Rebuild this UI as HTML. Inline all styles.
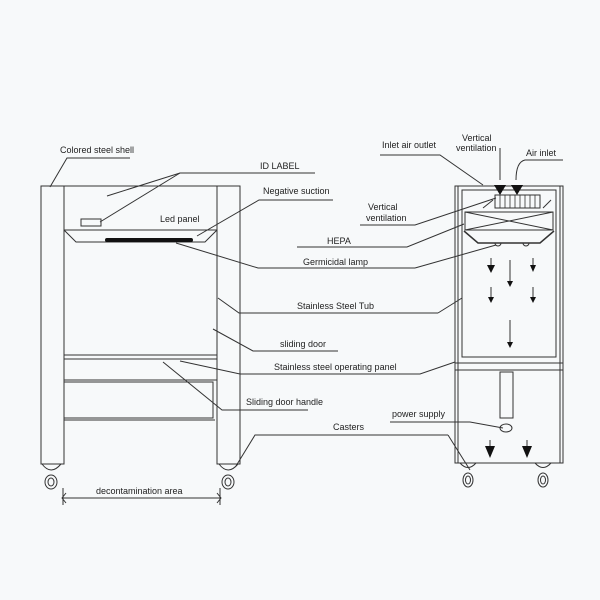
<!DOCTYPE html>
<html><head><meta charset="utf-8"><style>
html,body{margin:0;padding:0;background:#f7f9fa}
svg{display:block}
text{font-family:"Liberation Sans",sans-serif;font-size:9px;fill:#222}
</style></head><body>
<svg width="600" height="600" viewBox="0 0 600 600" xmlns="http://www.w3.org/2000/svg">
<rect width="600" height="600" fill="#f7f9fa"/>
<g fill="none" stroke="#333" stroke-width="1">
<!-- Left cabinet -->
<rect x="41" y="186" width="23" height="278"/>
<rect x="217" y="186" width="23" height="278"/>
<line x1="64" y1="186" x2="217" y2="186"/>
<line x1="64" y1="230" x2="217" y2="230"/>
<polyline points="64,230 76,242 205,242 217,230"/>
<rect x="81" y="219" width="20" height="7"/>
<line x1="64" y1="355" x2="217" y2="355"/>
<line x1="64" y1="359" x2="217" y2="359"/>
<line x1="64" y1="380" x2="217" y2="380"/>
<polyline points="64,382 213,382 213,418 64,418"/>
<line x1="64" y1="420" x2="215" y2="420"/>
<!-- casters left -->
<path d="M42,464 Q51,476 61,464"/><ellipse cx="51" cy="482" rx="6" ry="7"/><ellipse cx="51" cy="482" rx="3" ry="4"/>
<path d="M219,464 Q228,476 238,464"/><ellipse cx="228" cy="482" rx="6" ry="7"/><ellipse cx="228" cy="482" rx="3" ry="4"/>
<!-- dimension -->
<line x1="63" y1="498" x2="220" y2="498"/>
<path d="M66,493 L62,498 L66,503"/><path d="M217,493 L221,498 L217,503"/>
<line x1="63" y1="488" x2="63" y2="505"/><line x1="220" y1="488" x2="220" y2="505"/>
<!-- leaders left -->
<polyline points="130,158 67,158 50,187"/>
<polyline points="315,173 180,173 107,196"/>
<line x1="180" y1="173" x2="100" y2="222"/>
<polyline points="333,200 259,200 197,236"/>
<polyline points="415,268 258,268 176,243"/>
<polyline points="438,313 239,313 218,298"/>
<polyline points="462,298 438,313"/>
<polyline points="338,351 253,351 213,329"/>
<polyline points="455,362 420,374 240,374 180,361"/>
<polyline points="308,410 222,410 163,362"/>
<polyline points="448,435 255,435 236,466"/>
<polyline points="360,225 415,225 496,198"/>
<polyline points="297,247 407,247 464,224"/>
<line x1="415" y1="268" x2="496" y2="245"/>
<polyline points="390,422 470,422 503,428"/>
<line x1="448" y1="435" x2="470" y2="470"/>
<!-- right cabinet -->
<rect x="455" y="186" width="108" height="277"/>
<rect x="458" y="186" width="102" height="277"/>
<rect x="462" y="190" width="94" height="167"/>
<line x1="455" y1="363" x2="563" y2="363"/>
<line x1="455" y1="370" x2="563" y2="370"/>
<rect x="495" y="195" width="45" height="13"/>
<g stroke-width="0.8"><line x1="500" y1="195" x2="500" y2="208"/><line x1="505" y1="195" x2="505" y2="208"/><line x1="510" y1="195" x2="510" y2="208"/><line x1="515" y1="195" x2="515" y2="208"/><line x1="520" y1="195" x2="520" y2="208"/><line x1="525" y1="195" x2="525" y2="208"/><line x1="530" y1="195" x2="530" y2="208"/><line x1="535" y1="195" x2="535" y2="208"/></g>
<line x1="483" y1="208" x2="493" y2="200"/><line x1="543" y1="208" x2="551" y2="200"/>
<rect x="465" y="212" width="88" height="18"/>
<line x1="465" y1="212" x2="553" y2="230"/><line x1="553" y1="212" x2="465" y2="230"/>
<polyline points="464,231 478,243 540,243 554,231" stroke-width="1.5"/>
<path d="M495,243 a3,3 0 0 0 6,0"/><path d="M523,243 a3,3 0 0 0 6,0"/>
<rect x="500" y="372" width="13" height="46"/>
<ellipse cx="506" cy="428" rx="6" ry="4"/>
<path d="M460,463 Q468,472 476,463"/><ellipse cx="468" cy="480" rx="5" ry="7"/><ellipse cx="468" cy="480" rx="2.5" ry="4"/>
<path d="M535,463 Q543,472 551,463"/><ellipse cx="543" cy="480" rx="5" ry="7"/><ellipse cx="543" cy="480" rx="2.5" ry="4"/>
<!-- right leaders -->
<polyline points="380,155 440,155 483,185"/>
<path d="M500,148 L500,180"/>
<path d="M563,160 L525,160 Q516,162 516,180"/>
<!-- arrows -->
<line x1="491" y1="258" x2="491" y2="266"/><line x1="510" y1="260" x2="510" y2="282"/><line x1="533" y1="258" x2="533" y2="266"/>
<line x1="491" y1="287" x2="491" y2="298"/><line x1="533" y1="287" x2="533" y2="298"/>
<line x1="510" y1="320" x2="510" y2="343"/>
<line x1="490" y1="440" x2="490" y2="446"/><line x1="527" y1="440" x2="527" y2="446"/>
</g>
<rect x="105" y="238" width="88" height="4" rx="2" fill="#111"/>
<g fill="#111">
<polygon points="494,185 506,185 500,195"/>
<polygon points="511,185 523,185 517,195"/>
<polygon points="487,265 495,265 491,273"/><polygon points="507,281 513,281 510,287"/><polygon points="530,265 536,265 533,272"/>
<polygon points="488,297 494,297 491,303"/><polygon points="530,297 536,297 533,303"/>
<polygon points="507,342 513,342 510,348"/>
<polygon points="485,446 495,446 490,458"/><polygon points="522,446 532,446 527,458"/>
</g>
<text x="60" y="153">Colored steel shell</text>
<text x="260" y="169">ID LABEL</text>
<text x="263" y="194">Negative suction</text>
<text x="160" y="222">Led panel</text>
<text x="368" y="210">Vertical</text>
<text x="366" y="221">ventilation</text>
<text x="327" y="244">HEPA</text>
<text x="303" y="265">Germicidal lamp</text>
<text x="297" y="309">Stainless Steel Tub</text>
<text x="280" y="347">sliding door</text>
<text x="274" y="370">Stainless steel operating panel</text>
<text x="246" y="405">Sliding door handle</text>
<text x="392" y="417">power supply</text>
<text x="333" y="430">Casters</text>
<text x="96" y="494">decontamination area</text>
<text x="382" y="148">Inlet air outlet</text>
<text x="462" y="141">Vertical</text>
<text x="456" y="151">ventilation</text>
<text x="526" y="156">Air inlet</text>
</svg>
</body></html>
